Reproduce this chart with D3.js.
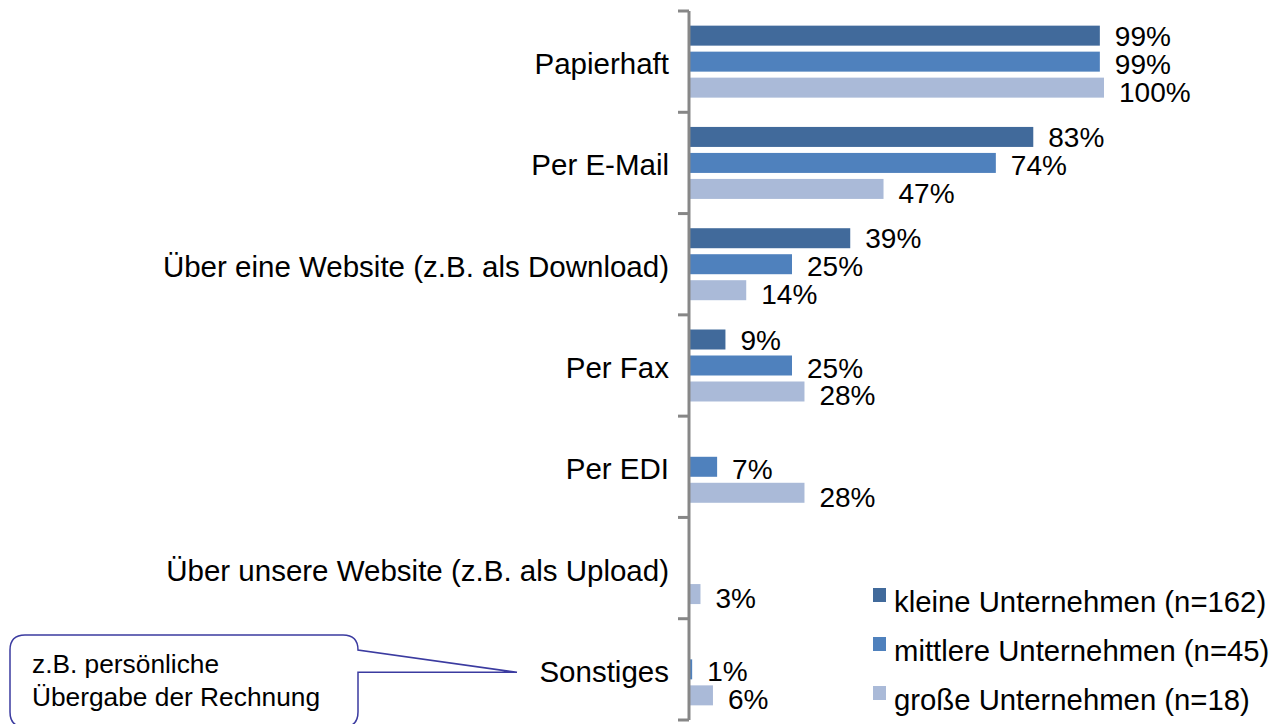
<!DOCTYPE html>
<html>
<head>
<meta charset="utf-8">
<script src="https://cdnjs.cloudflare.com/ajax/libs/d3/7.8.5/d3.min.js"></script>
<style>
  html, body { margin: 0; padding: 0; background: #ffffff; }
  svg { display: block; font-family: "Liberation Sans", Arial, sans-serif; }
</style>
</head>
<body>
<svg id="chart" width="1271" height="724"></svg>
<script>
const categories = [
  "Papierhaft",
  "Per E-Mail",
  "Über eine Website (z.B. als Download)",
  "Per Fax",
  "Per EDI",
  "Über unsere Website (z.B. als Upload)",
  "Sonstiges"
];
const seriesNames = [
  "kleine Unternehmen (n=162)",
  "mittlere Unternehmen (n=45)",
  "große Unternehmen (n=18)"
];
const kleine   = [99, 83, 39, 9, null, null, null];
const mittlere = [99, 74, 25, 25, 7, null, 1];
const grosse   = [100, 47, 14, 28, 28, 3, 6];
const seriesValues = [kleine, mittlere, grosse];
const colors = ["#416a9b", "#4f81bd", "#aabad8"];
const calloutLines = ["z.B. persönliche", "Übergabe der Rechnung"];

const svg = d3.select("#chart");

const x = d3.scaleLinear().domain([0, 100]).range([688, 1104]);
const y = d3.scaleBand().domain(categories).range([11, 720]).padding(0);
const ys = d3.scaleBand().domain(d3.range(seriesNames.length))
  .range([0, y.bandwidth()]).paddingInner(6 / 26).paddingOuter(0.5635);

// bars
seriesValues.forEach((vals, si) => {
  const data = categories.map((c, i) => ({ c, v: vals[i] })).filter(d => d.v != null);
  svg.append("g").selectAll("rect").data(data).join("rect")
    .attr("x", x(0))
    .attr("y", d => y(d.c) + ys(si))
    .attr("width", d => x(d.v) - x(0))
    .attr("height", ys.bandwidth())
    .attr("fill", colors[si]);
  svg.append("g").selectAll("text").data(data).join("text")
    .attr("x", d => x(d.v) + 15)
    .attr("y", d => y(d.c) + ys(si) + ys.bandwidth() / 2 + 10 + 2 * si)
    .attr("font-size", "28px")
    .attr("fill", "#000")
    .text(d => d.v + "%");
});

// axis
const axisG = svg.append("g").attr("transform", "translate(689,0)");
axisG.append("line").attr("x1", 0).attr("x2", 0).attr("y1", 11).attr("y2", 720)
  .attr("stroke", "#878787").attr("stroke-width", 3);
const tickYs = categories.map(c => y(c)).concat([y.range()[1]]);
axisG.selectAll("line.tick").data(tickYs).join("line").attr("class", "tick")
  .attr("x1", -11).attr("x2", 0).attr("y1", d => d).attr("y2", d => d)
  .attr("stroke", "#878787").attr("stroke-width", 3);

// category labels
svg.append("g").selectAll("text").data(categories).join("text")
  .attr("x", 669)
  .attr("y", d => y(d) + y.bandwidth() / 2 + 12.5)
  .attr("text-anchor", "end")
  .attr("font-size", "29.5px")
  .attr("fill", "#000")
  .text(d => d);

// legend
const leg = svg.append("g");
seriesNames.forEach((n, i) => {
  const ty = 588 + i * 49;
  leg.append("rect").attr("x", 873).attr("y", ty).attr("width", 13).attr("height", 14).attr("fill", colors[i]);
  leg.append("text").attr("x", 894).attr("y", ty + 24).attr("font-size", "29.3px").attr("fill", "#000").text(n);
});

// callout
const tipY = y("Sonstiges") + y.bandwidth() / 2 + 3;
const p = d3.path();
p.moveTo(25, 635);
p.lineTo(343, 635);
p.quadraticCurveTo(358, 635, 358, 650);
p.lineTo(517, tipY);
p.lineTo(358, tipY);
p.lineTo(358, 712);
p.quadraticCurveTo(358, 727, 343, 727);
p.lineTo(25, 727);
p.quadraticCurveTo(10, 727, 10, 712);
p.lineTo(10, 650);
p.quadraticCurveTo(10, 635, 25, 635);
p.closePath();
svg.append("path").attr("d", p.toString()).attr("fill", "#ffffff")
  .attr("stroke", "#3b3ba0").attr("stroke-width", 1.5);
svg.append("g").selectAll("text").data(calloutLines).join("text")
  .attr("x", 32).attr("y", (d, i) => 673 + i * 33)
  .attr("font-size", "26.3px").attr("fill", "#000").text(d => d);
</script>
</body>
</html>
